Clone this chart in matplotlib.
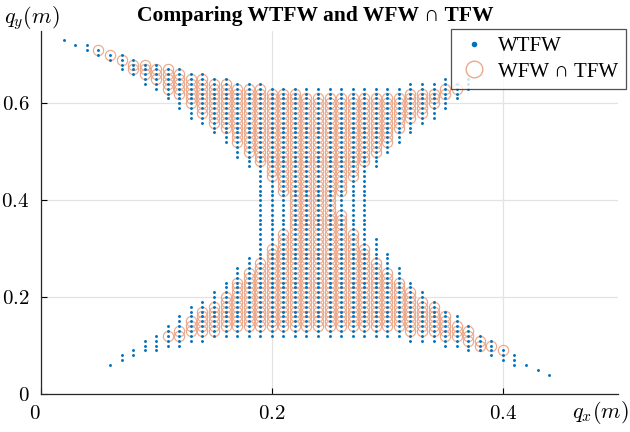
import numpy as np
import matplotlib
matplotlib.use('Agg')
import matplotlib.pyplot as plt
from matplotlib.lines import Line2D

nan = np.nan

# upper lobe: one column of grid points every 0.01 m in q_x
up_x = [0.02, 0.03, 0.04, 0.05, 0.06, 0.07, 0.08, 0.09, 0.10, 0.11, 0.12, 0.13,
        0.14, 0.15, 0.16, 0.17, 0.18, 0.19, 0.20, 0.21, 0.22, 0.23, 0.24, 0.25,
        0.26, 0.27, 0.28, 0.29, 0.30, 0.31, 0.32, 0.33, 0.34, 0.35, 0.36, 0.37]
up_blue_top = [.73, .72, .72, .71, .70, .70, .69, .68, .68, .67, .67, .66,
               .66, .65, .65, .64, .64, .64, .63, .63, .63, .63, .63, .63,
               .63, .63, .63, .63, .63, .63, .64, .64, .64, .65, .64, .65]
up_blue_bot = [.73, .72, .71, .70, .69, .67, .66, .64, .63, .61, .59, .57,
               .56, .54, .52, .49, .47, .40, .40, .40, .40, .40, .40, .40,
               .40, .40, .40, .47, .50, .52, .54, .56, .57, .59, .61, .63]
up_circ_top = [nan, nan, nan, .71, .70, .69, .68, .68, .67, .67, .66, .65,
               .65, .64, .64, .63, .63, .63, .62, .62, .62, .61, .61, .61,
               .61, .61, .61, .61, .61, .61, .62, .62, .62, .63, .63, nan]
up_circ_bot = [nan, nan, nan, .71, .70, .69, .67, .66, .65, .63, .62, .60,
               .58, .56, .55, .52, .50, .48, .45, .42, .40, .40, .40, .40,
               .42, .45, .48, .50, .52, .55, .57, .58, .60, .62, .63, nan]

# lower lobe
low_x = [0.06, 0.07, 0.08, 0.09, 0.10, 0.11, 0.12, 0.13, 0.14, 0.15, 0.16, 0.17,
         0.18, 0.19, 0.20, 0.21, 0.22, 0.23, 0.24, 0.25, 0.26, 0.27, 0.28, 0.29,
         0.30, 0.31, 0.32, 0.33, 0.34, 0.35, 0.36, 0.37, 0.38, 0.39, 0.40, 0.41,
         0.42, 0.43, 0.44]
low_blue_top = [.06, .08, .09, .11, .12, .14, .16, .18, .19, .21, .23, .26,
                .28, .39, .39, .39, .39, .39, .39, .39, .39, .39, .39, .32,
                .29, .26, .23, .21, .19, .17, .16, .14, .12, .11, .09, .08,
                .06, .05, .04]
low_blue_bot = [.06, .07, .08, .09, .09, .10, .10, .11, .11, .12, .12, .12,
                .12, .12, .12, .12, .12, .12, .12, .12, .12, .12, .12, .12,
                .12, .12, .11, .11, .11, .10, .10, .09, .09, .08, .07, .06,
                .06, .05, .04]
low_circ_top = [nan, nan, nan, nan, nan, .12, .13, .15, .17, .18, .20, .23,
                .25, .27, .30, .33, .39, .39, .39, .39, .37, .33, .30, .27,
                .25, .23, .21, .19, .18, .16, .14, .13, .11, .10, .09, nan,
                nan, nan, nan]
low_circ_bot = [nan, nan, nan, nan, nan, .12, .12, .13, .13, .13, .14, .14,
                .14, .14, .14, .14, .14, .14, .14, .14, .14, .14, .14, .14,
                .14, .14, .13, .13, .13, .12, .12, .11, .10, .10, .09, nan,
                nan, nan, nan]

xticks = [0, 0.2, 0.4]
yticks = [0, 0.2, 0.4, 0.6]
tick_lbl_x = ['$0$', '$0.2$', '$0.4$']
tick_lbl_y = ['$0$', '$0.2$', '$0.4$', '$0.6$']


def columns(xs, tops, bots):
    px, py = [], []
    for x, t, b in zip(xs, tops, bots):
        if np.isnan(t):
            continue
        n = int(round((t - b) / 0.01)) + 1
        for k in range(n):
            px.append(x)
            py.append(round(b + 0.01 * k, 2))
    return np.array(px), np.array(py)


bx1, by1 = columns(up_x, up_blue_top, up_blue_bot)
bx2, by2 = columns(low_x, low_blue_top, low_blue_bot)
cx1, cy1 = columns(up_x, up_circ_top, up_circ_bot)
cx2, cy2 = columns(low_x, low_circ_top, low_circ_bot)

blue = '#0072BD'
orange = '#ECA98C'

plt.rcParams['font.family'] = ['Liberation Serif', 'DejaVu Serif']
plt.rcParams['mathtext.fontset'] = 'cm'

fig = plt.figure(figsize=(6.3, 4.32), dpi=100)
ax = fig.add_axes([0.0646, 0.088, 0.917, 0.841])

ax.plot(np.concatenate([bx1, bx2]), np.concatenate([by1, by2]), 'o', color=blue,
        markersize=2.1, markeredgewidth=0, zorder=3)
ax.plot(np.concatenate([cx1, cx2]), np.concatenate([cy1, cy2]), 'o', mfc='none',
        mec=orange, markersize=7.4, markeredgewidth=0.85, zorder=2)

ax.set_xlim(0, 0.5)
ax.set_ylim(0, 0.75)
ax.set_xticks(xticks)
ax.set_xticklabels(tick_lbl_x)
ax.set_yticks(yticks)
ax.set_yticklabels(tick_lbl_y)
ax.tick_params(direction='in', length=4, width=0.8, labelsize=15, pad=8)
ax.get_xticklabels()[0].set_ha('right')
ax.grid(True, color='#E3E3E3', linewidth=0.9)
ax.set_axisbelow(True)
for s in ['top', 'right']:
    ax.spines[s].set_visible(False)
for s in ['left', 'bottom']:
    ax.spines[s].set_linewidth(0.9)
    ax.spines[s].set_color('#262626')

fig.text(0.5, 0.963, 'Comparing WTFW and WFW ∩ TFW', ha='center', va='center',
         fontsize=15.5, fontweight='bold')
fig.text(0.051, 0.958, r'$q_y(m)$', ha='center', va='center', fontsize=16)
fig.text(0.953, 0.044, r'$q_x(m)$', ha='center', va='center', fontsize=16)

handles = [Line2D([], [], ls='', marker='o', color=blue, markersize=4, mew=0),
           Line2D([], [], ls='', marker='o', mfc='none', mec=orange, markersize=12, mew=1)]
leg = fig.legend(handles, ['WTFW', 'WFW ∩ TFW'], loc='upper right',
                 bbox_to_anchor=(0.993, 0.933), borderaxespad=0, fontsize=15,
                 frameon=True, fancybox=False, shadow=False, borderpad=0.35,
                 handletextpad=0.4, labelspacing=0.3, handlelength=1.5)
leg.get_frame().set_edgecolor('#262626')
leg.get_frame().set_linewidth(0.9)

fig.savefig('out.png', dpi=100)
